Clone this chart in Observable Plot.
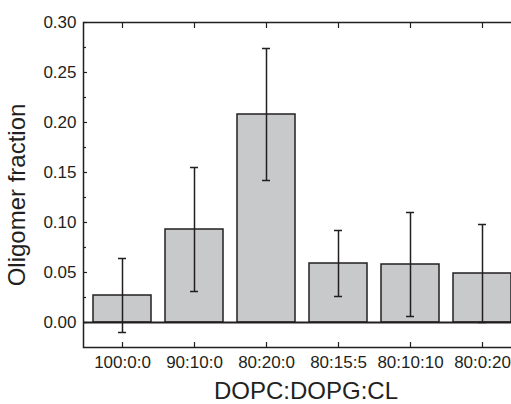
<!DOCTYPE html>
<html>
<head>
<meta charset="utf-8">
<script src="https://cdn.jsdelivr.net/npm/d3@7"></script>
<script src="https://cdn.jsdelivr.net/npm/@observablehq/plot@0.6"></script>
<style>
  html, body { margin: 0; padding: 0; background: #fff; overflow: hidden; width: 511px; height: 404px; }
  #chart { width: 511px; height: 404px; overflow: hidden; }
  #chart svg { display: block; max-width: none !important; width: 520px !important; height: 404px !important; }
</style>
</head>
<body>
<div id="chart"></div>
<script>
const categories = ["100:0:0", "90:10:0", "80:20:0", "80:15:5", "80:10:10", "80:0:20"];
const values = [0.027, 0.093, 0.208, 0.059, 0.058, 0.049];
const errors = [0.037, 0.062, 0.066, 0.033, 0.052, 0.049];
const yMajorTicks = [0, 0.05, 0.10, 0.15, 0.20, 0.25, 0.30];
const yMinorTicks = [0.025, 0.075, 0.125, 0.175, 0.225, 0.275];
const xTitle = "DOPC:DOPG:CL";
const yTitle = "Oligomer fraction";

const data = categories.map((c, i) => ({cat: c, v: values[i], lo: values[i] - errors[i], hi: values[i] + errors[i]}));

const ink = "#231f20";
const font = "'Liberation Sans', Arial, Helvetica, sans-serif";

const chart = Plot.plot({
  width: 520,
  height: 404,
  marginLeft: 83,
  marginRight: 0,
  marginTop: 22,
  marginBottom: 57,
  style: {fontFamily: font, fontSize: "17px", color: ink, background: "#fff", maxWidth: "none"},
  x: {type: "band", domain: categories, paddingInner: 0.2, paddingOuter: 0.1, label: null},
  y: {domain: [-0.025, 0.30], label: null},
  marks: [
    Plot.barY(data, {x: "cat", y: "v", fill: "#c8c9cb", stroke: ink, strokeWidth: 1.5}),
    Plot.ruleY([0], {stroke: ink, strokeWidth: 2}),
    Plot.ruleX(data, {x: "cat", y1: "lo", y2: "hi", stroke: ink, strokeWidth: 1.5}),
    Plot.tickY(data, {x: "cat", y: "hi", stroke: ink, strokeWidth: 1.5, insetLeft: 25, insetRight: 25}),
    Plot.tickY(data, {x: "cat", y: "lo", stroke: ink, strokeWidth: 1.5, insetLeft: 25, insetRight: 25}),
    Plot.frame({stroke: ink, strokeWidth: 1.5}),
    // y axis labels and inward ticks
    Plot.axisY(yMajorTicks, {anchor: "left", tickSize: 0, tickPadding: 7, tickFormat: d3.format(".2f"), label: null, fill: ink, fontSize: 17}),
    Plot.axisY(yMajorTicks, {anchor: "left", tickSize: -4, fill: "none", label: null, stroke: ink, strokeWidth: 1.2}),
    Plot.axisY(yMinorTicks, {anchor: "left", tickSize: -3, fill: "none", label: null, stroke: ink, strokeWidth: 1.2}),
    // x axis labels and inward ticks (bottom and top)
    Plot.axisX({anchor: "bottom", tickSize: 0, tickPadding: 8, label: null, fill: ink, fontSize: 17}),
    Plot.axisX({anchor: "bottom", tickSize: -5, fill: "none", label: null, stroke: ink, strokeWidth: 1.2}),
    Plot.axisX({anchor: "top", tickSize: -5, fill: "none", label: null, stroke: ink, strokeWidth: 1.2}),
    // titles
    Plot.text([xTitle], {frameAnchor: "bottom", text: d => d, dx: 4, dy: 44, lineAnchor: "middle", fontSize: 24, fill: ink}),
    Plot.text([yTitle], {frameAnchor: "left", text: d => d, rotate: -90, dx: -66, dy: 10, lineAnchor: "middle", textAnchor: "middle", fontSize: 24, fill: ink})
  ]
});
document.getElementById("chart").appendChild(chart);
</script>
</body>
</html>
